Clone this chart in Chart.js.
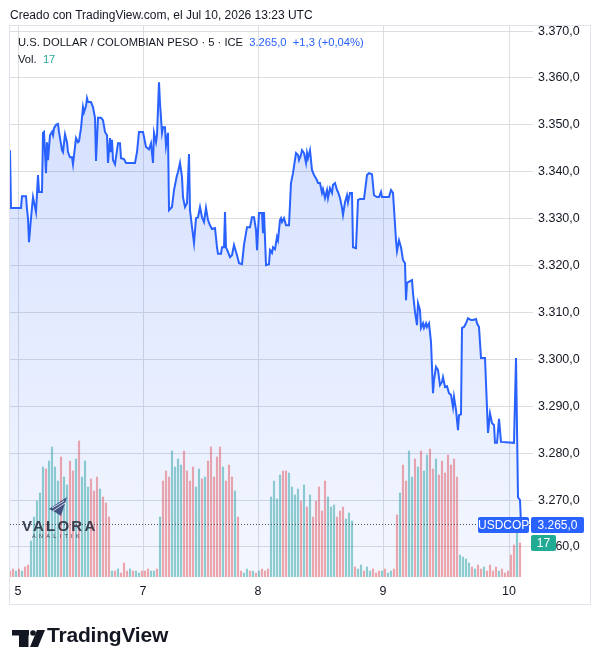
<!DOCTYPE html>
<html>
<head>
<meta charset="utf-8">
<script src="https://cdn.jsdelivr.net/npm/chart.js@4.4.1/dist/chart.umd.min.js"></script>
<style>
  html, body { margin: 0; padding: 0; background: #fff; }
  body { width: 598px; height: 664px; position: relative; overflow: hidden;
         font-family: "Liberation Sans", Arial, sans-serif; color: #131722; }
  #chart { position: absolute; left: 0; top: 0; }
  #frame { position: absolute; left: 9px; top: 25px; width: 580px; height: 578px;
           border: 1px solid #e0e3eb; pointer-events: none; }
  .txt { position: absolute; white-space: nowrap; font-size: 11.2px; line-height: 14px; }
  #header { left: 10px; top: 8px; font-size: 12px; }
  #legend { left: 18px; top: 35px; }
  #vol { left: 18px; top: 52px; }
  .blue { color: #2962ff; }
  .teal { color: #26a69a; }
  .tag { position: absolute; color: #fff; font-size: 12px; line-height: 16px; height: 16px;
         text-align: center; border-radius: 2px; }
  #tagSym { background: #2962ff; width: 51px; }
  #tagPrice { background: #2962ff; width: 53px; }
  #tagVol { background: #22ab94; width: 25px; }
  #valora { position: absolute; left: 22px; top: 518px; opacity: 0.9; }
  #valora .name { font-weight: bold; font-size: 15px; letter-spacing: 2.2px; color: #2b3040; line-height: 15px; }
  #valora .sub { font-size: 5.5px; letter-spacing: 3.3px; color: #2b3040; margin-left: 10px; line-height: 7px; }
  #tvword { position: absolute; left: 47px; top: 623px; font-weight: bold; font-size: 21px;
            letter-spacing: -0.2px; color: #131722; }
  #marks { position: absolute; left: 0; top: 0; pointer-events: none; }
</style>
</head>
<body>
<canvas id="chart" width="598" height="664"></canvas>
<div id="frame"></div>
<div class="txt" id="header">Creado con TradingView.com, el Jul 10, 2026 13:23 UTC</div>
<div class="txt" id="legend">U.S. DOLLAR / COLOMBIAN PESO · 5 · ICE&nbsp; <span class="blue">3.265,0&nbsp; +1,3 (+0,04%)</span></div>
<div class="txt" id="vol">Vol.&nbsp; <span class="teal">17</span></div>
<div id="valora"><div class="name">VALORA</div><div class="sub">ANALITIK</div></div>
<svg id="marks" width="598" height="664">
  <!-- valora feather -->
  <polygon points="49,509 67,497 61,516 55,512" fill="#34467a" opacity="0.9"/>
  <line x1="52" y1="508" x2="64" y2="501" stroke="#fff" stroke-width="0.8"/>
  <line x1="53" y1="511" x2="65" y2="503" stroke="#fff" stroke-width="0.8"/>
  <!-- tradingview mark -->
  <rect x="12" y="630" width="17" height="5.5" fill="#131722"/>
  <rect x="19" y="630" width="9.5" height="17" fill="#131722"/>
  <circle cx="33" cy="633" r="2.8" fill="#131722"/>
  <polygon points="37,630 45,630 38,647 30,647" fill="#131722"/>
</svg>
<div id="tvword">TradingView</div>
<div class="tag" id="tagSym">USDCOP</div>
<div class="tag" id="tagPrice">3.265,0</div>
<div class="tag" id="tagVol">17</div>

<script>
// USD/COP 5-minute closes (time index, price)
const priceT = [0, 1, 11, 12, 16, 17, 18, 19, 21, 23, 26, 28, 29, 32, 33, 34, 36, 37, 38, 40,
  42, 43, 44, 46, 48, 49, 52, 53, 55, 57, 58, 60, 62, 63, 66, 68, 69, 71, 73, 74,
  76, 77, 78, 81, 83, 85, 86, 88, 91, 93, 95, 97, 98, 100, 101, 102, 103, 105, 108, 110,
  111, 114, 116, 125, 127, 129, 133, 136, 139, 141, 143, 144, 146, 147, 149, 150, 152, 153, 155, 156,
  158, 159, 162, 164, 167, 168, 170, 172, 173, 175, 177, 179, 180, 182, 184, 186, 188, 190, 192, 194,
  196, 198, 200, 202, 205, 207, 208, 211, 212, 214, 215, 216, 218, 220, 222, 224, 227, 229, 232, 234,
  237, 240, 242, 244, 246, 247, 249, 252, 253, 254, 256, 259, 260, 262, 263, 265, 267, 268, 270, 271,
  272, 274, 276, 279, 281, 283, 286, 288, 289, 291, 292, 294, 296, 297, 298, 300, 302, 304, 307, 308,
  310, 312, 313, 315, 317, 318, 320, 322, 323, 325, 327, 328, 330, 332, 333, 335, 337, 338, 340, 342,
  343, 346, 348, 350, 354, 357, 359, 362, 364, 367, 369, 371, 372, 379, 381, 383, 386, 387, 389, 391,
  393, 395, 396, 397, 400, 402, 403, 405, 407, 408, 410, 411, 413, 414, 416, 417, 419, 421, 423, 424,
  426, 428, 430, 432, 433, 435, 437, 439, 441, 443, 444, 446, 448, 449, 451, 452, 454, 456, 458, 461,
  463, 466, 467, 469, 471, 475, 478, 480, 482, 484, 485, 487, 489, 491, 504, 506, 508, 510, 511];
const priceV = [3344.6, 3332.3, 3332.3, 3334.8, 3334.8, 3332.0, 3330.1, 3325.0, 3330.1, 3334.6,
  3331.4, 3339.3, 3335.7, 3335.7, 3348.3, 3348.5, 3339.7, 3346.3, 3342.5, 3347.8,
  3348.5, 3347.8, 3349.3, 3350.0, 3350.2, 3348.5, 3344.6, 3344.2, 3348.0, 3346.3,
  3344.2, 3343.1, 3343.1, 3341.6, 3347.2, 3346.3, 3346.5, 3349.3, 3353.8, 3352.7,
  3354.0, 3355.7, 3354.9, 3354.9, 3353.8, 3351.5, 3342.3, 3351.5, 3351.5, 3351.0,
  3348.5, 3347.8, 3341.9, 3347.2, 3344.2, 3346.8, 3342.5, 3341.6, 3346.1, 3346.1,
  3342.9, 3342.7, 3341.9, 3341.9, 3344.2, 3348.5, 3348.5, 3345.3, 3344.8, 3346.1,
  3341.9, 3348.3, 3346.3, 3347.8, 3359.1, 3354.6, 3348.3, 3349.5, 3349.5, 3345.5,
  3348.3, 3331.8, 3332.5, 3336.1, 3339.3, 3339.9, 3341.9, 3338.9, 3334.6, 3332.5,
  3333.3, 3343.8, 3331.8, 3328.2, 3324.8, 3330.1, 3330.3, 3332.5, 3330.3, 3329.3,
  3332.3, 3329.7, 3328.6, 3327.8, 3328.0, 3323.9, 3322.5, 3322.5, 3323.9, 3323.9,
  3331.4, 3323.9, 3322.9, 3321.8, 3322.2, 3324.4, 3322.2, 3320.5, 3320.3, 3324.4,
  3328.2, 3328.2, 3330.3, 3330.3, 3327.6, 3323.3, 3331.2, 3331.2, 3326.9, 3331.4,
  3320.1, 3320.3, 3323.3, 3322.7, 3323.9, 3323.5, 3326.1, 3325.4, 3329.7, 3330.1,
  3329.3, 3330.1, 3328.6, 3328.6, 3337.6, 3339.7, 3344.0, 3343.6, 3342.5, 3343.6,
  3344.6, 3344.0, 3341.9, 3344.0, 3342.9, 3344.6, 3340.4, 3339.3, 3338.2, 3337.6,
  3337.6, 3335.5, 3336.3, 3334.4, 3336.1, 3334.4, 3336.5, 3335.5, 3337.2, 3337.6,
  3336.1, 3335.7, 3334.4, 3332.3, 3330.8, 3333.5, 3335.0, 3333.5, 3335.5, 3335.5,
  3323.9, 3323.7, 3334.0, 3334.2, 3334.2, 3339.3, 3339.7, 3339.5, 3335.0, 3334.6,
  3334.6, 3335.7, 3334.6, 3334.6, 3336.1, 3335.5, 3325.4, 3323.1, 3325.4, 3323.9,
  3321.2, 3320.5, 3312.6, 3316.3, 3316.7, 3316.9, 3314.1, 3310.1, 3307.3, 3312.0,
  3310.5, 3306.7, 3307.7, 3306.7, 3307.7, 3306.9, 3307.7, 3303.7, 3292.8, 3295.6,
  3298.4, 3297.7, 3294.5, 3295.2, 3296.2, 3294.1, 3294.3, 3292.8, 3292.4, 3289.8,
  3292.0, 3289.2, 3284.9, 3288.1, 3288.3, 3306.7, 3306.9, 3307.7, 3308.8, 3308.4,
  3308.4, 3308.6, 3307.7, 3306.9, 3300.3, 3300.3, 3284.3, 3288.5, 3286.4, 3286.0,
  3282.2, 3282.2, 3287.3, 3282.4, 3282.2, 3300.3, 3270.6, 3270.0, 3265.0];

// volume per bar, one bar every volStep time units starting at 0
const volStep = 3;
const volume = [3, 4, 3, 4, 3, 5, 6, 18, 30, 38, 42, 55, 54, 58, 65, 55, 48, 60, 50, 46,
  58, 53, 59, 68, 50, 58, 45, 49, 43, 50, 44, 40, 37, 30,
  3, 3, 4, 2, 7, 3, 4, 3, 3, 2, 3, 3, 4, 3, 3, 4,
  30, 48, 53, 50, 63, 55, 59, 56, 63, 53, 48, 55, 45, 54, 49, 50, 58, 65, 50, 60,
  65, 55, 48, 56, 50, 43, 30,
  3, 2, 4, 3, 3, 2, 3, 4, 3, 4,
  40, 48, 39, 51, 53, 53, 52, 45, 41, 44, 38, 46, 35, 41, 30, 38, 45, 33, 48, 40,
  35, 36, 30, 33, 35, 29, 32, 28,
  5, 4, 6, 3, 5, 3, 4, 2, 3, 3, 4, 2, 3, 4,
  31, 42, 56, 48, 63, 50, 59, 55, 63, 53, 61, 64, 54, 59, 51, 58, 52, 61, 56, 59, 50,
  11, 10, 9, 7, 5, 4, 6, 4, 5, 3, 6, 3, 5, 3, 4, 2, 3,
  11, 16, 28, 17];

const dayTicks = [8, 133, 248, 373, 499];
const dayLabels = ['5', '7', '8', '9', '10'];
const priceTicks = [3260, 3270, 3280, 3290, 3300, 3310, 3320, 3330, 3340, 3350, 3360, 3370];
const priceMin = 3253.6, priceMax = 3371.3;
const lastPrice = priceV[priceV.length - 1];
const lastVolume = volume[volume.length - 1];

const UP = 'rgba(38,166,154,0.5)';
const DOWN = 'rgba(239,83,80,0.5)';

function fmt(v) {
    const parts = v.toFixed(1).split('.');
    return parts[0].replace(/\B(?=(\d{3})+(?!\d))/g, '.') + ',' + parts[1];
}

function priceAt(t) {
    if (t <= priceT[0]) return priceV[0];
    for (let i = 1; i < priceT.length; i++) {
        if (t <= priceT[i]) {
            const f = (t - priceT[i - 1]) / (priceT[i] - priceT[i - 1]);
            return priceV[i - 1] + f * (priceV[i] - priceV[i - 1]);
        }
    }
    return priceV[priceV.length - 1];
}

// build datasets
const priceData = priceT.map((t, i) => ({ x: t, y: priceV[i] }));
const volData = volume.map((v, i) => ({ x: i * volStep, y: v }));
let prevUp = true;
const volColors = volume.map((v, i) => {
    const t = i * volStep;
    const d = priceAt(t) - priceAt(t - volStep);
    const up = d > 0 ? true : d < 0 ? false : !prevUp;
    prevUp = up;
    return up ? UP : DOWN;
});

// dotted last-price line
const lastLinePlugin = {
    id: 'lastLine',
    afterDatasetsDraw(chart) {
        const { ctx, chartArea } = chart;
        const y = Math.round(chart.scales.y.getPixelForValue(lastPrice)) + 0.5;
        ctx.save();
        ctx.strokeStyle = '#50535e';
        ctx.lineWidth = 1;
        ctx.setLineDash([1, 2]);
        ctx.beginPath();
        ctx.moveTo(chartArea.left, y);
        ctx.lineTo(chartArea.right, y);
        ctx.stroke();
        ctx.restore();
    }
};

const ctx = document.getElementById('chart').getContext('2d');
const chart = new Chart(ctx, {
    type: 'line',
    data: {
        datasets: [{
            data: priceData,
            borderColor: '#2962ff',
            borderWidth: 2,
            pointRadius: 0,
            tension: 0,
            fill: 'start',
            backgroundColor: function(c) {
                const area = c.chart.chartArea;
                if (!area) return 'rgba(41,98,255,0.12)';
                const g = c.chart.ctx.createLinearGradient(0, area.top, 0, area.bottom);
                g.addColorStop(0, 'rgba(41,98,255,0.22)');
                g.addColorStop(1, 'rgba(41,98,255,0.05)');
                return g;
            },
            yAxisID: 'y'
        }, {
            type: 'bar',
            data: volData,
            backgroundColor: volColors,
            barThickness: 1.5,
            yAxisID: 'yVol'
        }]
    },
    options: {
        responsive: false,
        animation: false,
        devicePixelRatio: 1,
        layout: { padding: { left: 10, top: 25, right: 8, bottom: 61 } },
        plugins: { legend: { display: false }, tooltip: { enabled: false } },
        scales: {
            x: {
                type: 'linear',
                min: 0,
                max: 523,
                offset: false,
                afterBuildTicks: s => { s.ticks = dayTicks.map(v => ({ value: v })); },
                afterFit: s => { s.height = 26; },
                ticks: {
                    autoSkip: false,
                    maxRotation: 0,
                    padding: 7,
                    color: '#131722',
                    font: { family: '"Liberation Sans", Arial, sans-serif', size: 12.5 },
                    callback: v => dayLabels[dayTicks.indexOf(v)]
                },
                grid: { color: '#dcdde0', drawTicks: false, offset: false },
                border: { display: false }
            },
            y: {
                position: 'right',
                min: priceMin,
                max: priceMax,
                afterBuildTicks: s => { s.ticks = priceTicks.map(v => ({ value: v })); },
                afterFit: s => { s.width = 57; },
                ticks: {
                    padding: 5,
                    color: '#131722',
                    font: { family: '"Liberation Sans", Arial, sans-serif', size: 12.5 },
                    callback: v => fmt(v)
                },
                grid: { color: '#dcdde0', drawTicks: false },
                border: { display: false }
            },
            yVol: {
                display: false,
                min: 0,
                max: 276
            }
        }
    },
    plugins: [lastLinePlugin]
});

// price / volume tags on the axis
const area = chart.chartArea;
const yPrice = chart.scales.y.getPixelForValue(lastPrice);
const yVolume = chart.scales.yVol.getPixelForValue(lastVolume);
const tagSym = document.getElementById('tagSym');
const tagPrice = document.getElementById('tagPrice');
const tagVol = document.getElementById('tagVol');
tagSym.style.left = (area.right - 55) + 'px';
tagSym.style.top = (yPrice - 7) + 'px';
tagPrice.style.left = (area.right - 2) + 'px';
tagPrice.style.top = (yPrice - 7) + 'px';
tagPrice.textContent = fmt(lastPrice);
tagVol.style.left = (area.right - 2) + 'px';
tagVol.style.top = Math.max(yVolume - 8, yPrice + 10) + 'px';
tagVol.textContent = lastVolume;
</script>
</body>
</html>
